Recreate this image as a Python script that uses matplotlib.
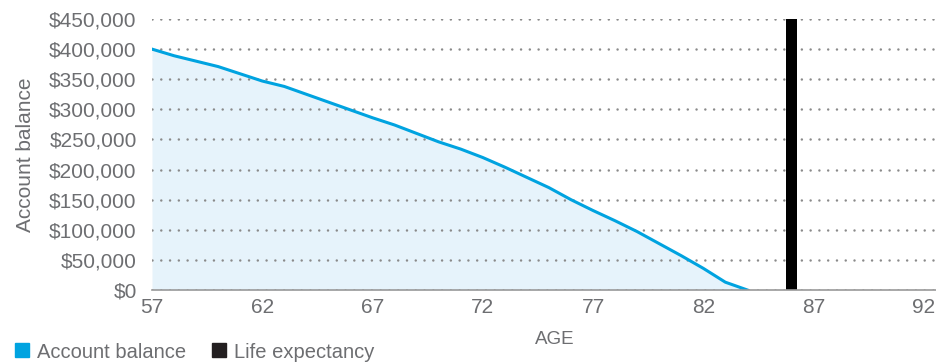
import matplotlib.pyplot as plt
from matplotlib.lines import Line2D

plt.rcParams['font.family'] = ['Liberation Sans', 'DejaVu Sans']

# Projected account balance by age
ages = [57, 58, 59, 60, 61, 62, 63, 64, 65, 66, 67, 68, 69, 70,
        71, 72, 73, 74, 75, 76, 77, 78, 79, 80, 81, 82, 83, 84]
balance = [400000, 389000, 380000, 371000, 359000, 347000, 338000, 325000,
           312000, 299000, 286000, 274000, 260000, 246000, 234000, 220000,
           204000, 187000, 170000, 150000, 132000, 115000, 97000, 77000,
           57000, 36000, 13000, 0]

life_expectancy_age = 86
y_ticks = [0, 50000, 100000, 150000, 200000, 250000, 300000, 350000, 400000, 450000]
x_ticks = [57, 62, 67, 72, 77, 82, 87, 92]

blue = '#00a3e0'
fill_blue = '#e6f3fb'
text_gray = '#6d6e71'

fig = plt.figure(figsize=(9.37, 3.62), dpi=100)
ax = fig.add_axes([152 / 937, 1 - 290 / 362, (937 - 152) / 937, (290 - 19) / 362])

ax.fill_between(ages, balance, 0, color=fill_blue, lw=0, zorder=1)
ax.plot(ages, balance, color=blue, lw=2.2, zorder=3)
ax.bar(life_expectancy_age, y_ticks[-1], width=0.54, color='black', zorder=4)

ax.set_xlim(57, 92.6)
ax.set_ylim(0, 450000)
ax.set_xticks(x_ticks)
ax.set_yticks(y_ticks)
ax.set_yticklabels([f'${v:,.0f}' for v in y_ticks])
ax.tick_params(length=0, labelsize=15, labelcolor=text_gray)
ax.tick_params(axis='x', pad=6)
ax.tick_params(axis='y', pad=11)

# dotted horizontal gridlines
ax.yaxis.grid(True, color='#8a8a8a', lw=1.8, linestyle=(0, (0.01, 3.5)), zorder=2)
for gl in ax.get_ygridlines():
    gl.set_dash_capstyle('round')
ax.set_axisbelow(False)

for side in ['top', 'right', 'left']:
    ax.spines[side].set_visible(False)
ax.spines['bottom'].set_color('#9a9a9a')
ax.spines['bottom'].set_linewidth(1.2)
ax.spines['bottom'].set_zorder(5)

ax.set_ylabel('Account balance', fontsize=15, color=text_gray)
ax.yaxis.set_label_coords(-0.149, 0.5)
fig.text(555 / 937, 1 - 340 / 362, 'AGE', ha='center', va='center',
         fontsize=13.5, color=text_gray)

handles = [
    Line2D([], [], marker='s', ls='', color=blue, markersize=10),
    Line2D([], [], marker='s', ls='', color='#231f20', markersize=10),
]
fig.legend(handles, ['Account balance', 'Life expectancy'], loc='center left',
           bbox_to_anchor=(14 / 937, 1 - 352 / 362), ncol=2, frameon=False,
           fontsize=14.5, labelcolor=text_gray, handlelength=0.8,
           handletextpad=0.35, columnspacing=1.2, borderpad=0, borderaxespad=0)

fig.savefig('out.png', dpi=100)
